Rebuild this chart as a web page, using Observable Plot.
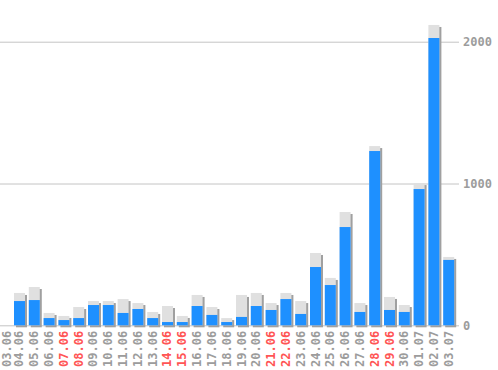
<!DOCTYPE html>
<html>
<head>
<meta charset="utf-8">
<script src="https://cdn.jsdelivr.net/npm/d3@7"></script>
<script src="https://cdn.jsdelivr.net/npm/@observablehq/plot@0.6"></script>
<style>
  html, body { margin: 0; padding: 0; background: #fff; }
  #chart svg { display: block; }
</style>
</head>
<body>
<div id="chart"></div>
<script>
const dates = ["03.06","04.06","05.06","06.06","07.06","08.06","09.06","10.06","11.06","12.06",
  "13.06","14.06","15.06","16.06","17.06","18.06","19.06","20.06","21.06","22.06",
  "23.06","24.06","25.06","26.06","27.06","28.06","29.06","30.06","01.07","02.07","03.07"];
const totals = [0,228,270,87,66,129,171,171,185,157,
  94,136,66,214,129,51,214,228,157,228,
  171,510,334,799,157,1264,200,143,1003,2118,482];
const blues = [0,171,178,51,37,51,143,143,87,115,
  51,23,23,136,73,23,59,136,108,185,
  80,411,284,693,94,1229,108,94,961,2026,461];
const weekends = ["07.06","08.06","14.06","15.06","21.06","22.06","28.06","29.06"];
const yTicks = [0, 1000, 2000];

const data = dates.map((d, i) => ({date: d, total: totals[i], blue: blues[i]}));
const labelFill = d => weekends.includes(d) ? "#ff5555" : "#9c9c9c";

const chart = Plot.plot({
  width: 498,
  height: 370,
  marginLeft: 0,
  marginRight: 39,
  marginTop: 41.7,
  marginBottom: 44.7,
  style: {fontFamily: "DejaVu Sans Mono", fontSize: "12px", fontWeight: "bold", background: "#fff"},
  x: {domain: dates, range: [-0.8, 454.2], paddingInner: 0.257, paddingOuter: 0, round: false, axis: null},
  y: {domain: [0, 2000], axis: null},
  marks: [
    Plot.ruleY(yTicks, {stroke: "#c4c4c4", strokeWidth: 1}),
    Plot.barY(data, {x: "date", y: "total", fill: "#a0a0a0", dx: 2, dy: 2}),
    Plot.barY(data, {x: "date", y: "total", fill: "#e0e0e0"}),
    Plot.barY(data, {x: "date", y: "blue", fill: "#1e90ff"}),
    Plot.axisY({ticks: yTicks, anchor: "right", tickSize: 0, tickPadding: 3.5, fill: "#9c9c9c", tickFormat: d => String(d), fontWeight: "bold"}),
    Plot.text(dates.slice(0, 1), {x: d => d, frameAnchor: "bottom", rotate: -90, textAnchor: "end", dx: 5.5, dy: 5,
      fill: labelFill, fontWeight: "bold"}),
    Plot.text(dates.slice(1), {x: d => d, frameAnchor: "bottom", rotate: -90, textAnchor: "end", dx: 3.5, dy: 5,
      fill: labelFill, fontWeight: "bold"})
  ]
});
document.getElementById("chart").appendChild(chart);
</script>
</body>
</html>
